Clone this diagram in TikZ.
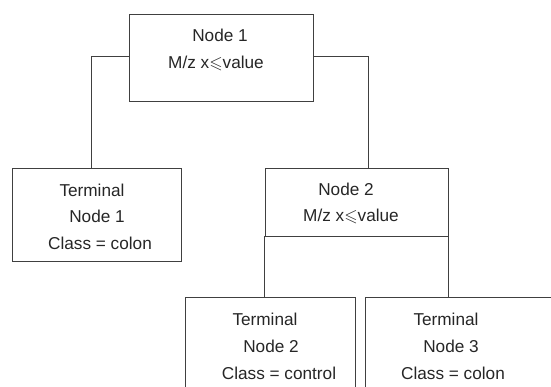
\documentclass[tikz,border=0pt]{standalone}
\usepackage{amssymb}
\usepackage{fontspec}
\setmainfont{Liberation Sans}
\begin{document}
\begin{tikzpicture}[x=1pt,y=-1pt,
  box/.style={draw=black!75,line width=0.8pt,rectangle,inner sep=0pt},
  lbl/.style={anchor=base,inner sep=0pt,font=\fontsize{17.2}{19}\selectfont,text=black!85},
  conn/.style={draw=black!75,line width=0.8pt}]
\useasboundingbox (0,0) rectangle (551,387);
\begin{scope}
\clip (0,0) rectangle (551,387);
\node[box,minimum width=184,minimum height=87] (n1) at (221,57.5) {};
\node[box,minimum width=169,minimum height=93] (t1) at (96.5,214.5) {};
\node[box,minimum width=183,minimum height=68] (n2) at (356.5,202) {};
\node[box,minimum width=170,minimum height=110] (t2) at (270,352) {};
\node[box,minimum width=200,minimum height=110] (t3) at (465,352) {};
\end{scope}
% texts
\node[lbl] (n1a) at (220,42) {Node 1};
\node[lbl] (n1b) at (216,69) {M/z x$\leqslant$value};
\node[lbl] (t1a) at (92,197) {Terminal};
\node[lbl] (t1b) at (97,223) {Node 1};
\node[lbl] (t1c) at (100,250) {Class = colon};
\node[lbl] (n2a) at (346,196) {Node 2};
\node[lbl] (n2b) at (351,222) {M/z x$\leqslant$value};
\node[lbl] (t2a) at (265,325) {Terminal};
\node[lbl] (t2b) at (271,352) {Node 2};
\node[lbl] (t2c) at (279,379) {Class = control};
\node[lbl] (t3a) at (446,325) {Terminal};
\node[lbl] (t3b) at (451,352) {Node 3};
\node[lbl] (t3c) at (453,379) {Class = colon};
% connectors
\coordinate (c1) at ([xshift=-5.5]t1.north);
\coordinate (c2) at ([xshift=11.5]n2.north);
\draw[conn] ([yshift=1.5]n1.west) -| (c1);
\draw[conn] ([yshift=1.5]n1.east) -| (c2);
\draw[conn] (n2.south west) -- (n2.south west |- t2.north);
\draw[conn] (n2.south east) -- (n2.south east |- t3.north);
\end{tikzpicture}
\end{document}
